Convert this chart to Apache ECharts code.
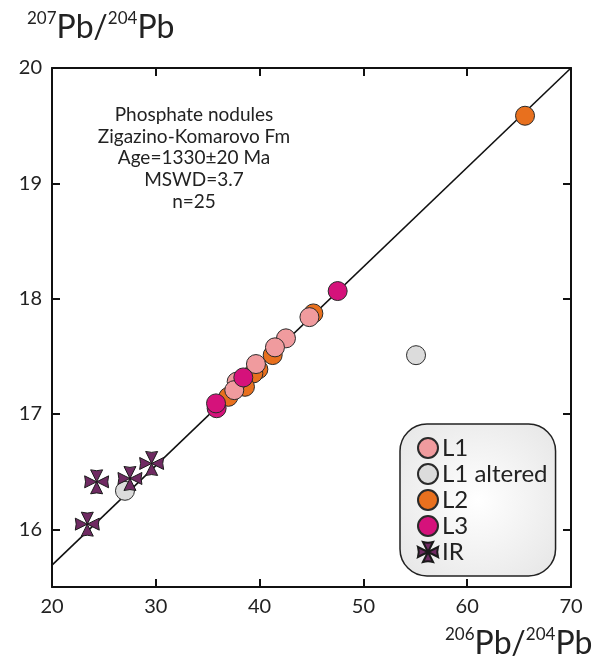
<!DOCTYPE html>
<html>
<head>
<meta charset="utf-8">
<script src="https://cdn.jsdelivr.net/npm/echarts@6/dist/echarts.min.js"></script>
<style>
html,body{margin:0;padding:0;background:#fff;}
#chart{width:595px;height:666px;}
</style>
</head>
<body>
<div id="chart"></div>
<script>
// ---- data ----
const xTicks = [20, 30, 40, 50, 60, 70];
const yTicks = [16, 17, 18, 19, 20];
const seriesNames = ['L1', 'L1 altered', 'L2', 'L3', 'IR'];
const l1 = [[44.8, 17.84], [42.54, 17.656], [41.48, 17.578], [39.65, 17.433], [37.79, 17.28], [37.56, 17.207]];
const l1Altered = [[55.07, 17.51], [27.03, 16.334]];
const l2 = [[65.57, 19.586], [45.18, 17.872], [41.26, 17.511], [39.88, 17.387], [39.40, 17.352], [38.59, 17.236], [36.99, 17.149]];
const l3 = [[47.52, 18.066], [38.43, 17.317], [35.86, 17.05], [35.80, 17.092]];
const ir = [[23.40, 16.045], [24.30, 16.412], [27.51, 16.441], [29.60, 16.571]];
const isochron = [[20, 15.69], [70, 20.0]];
const noteLines = ['Phosphate nodules', 'Zigazino-Komarovo Fm', 'Age=1330±20 Ma', 'MSWD=3.7', 'n=25'];

const FONT = 'Lato';
const colors = { 'L1': '#F09B9E', 'L1 altered': '#DCDCDC', 'L2': '#E8701E', 'L3': '#D5127B', 'IR': '#6F2A62' };
const crossPath = 'path://M5,0 Q10,1.5 15,0 L10,10 Z M5,20 Q10,18.5 15,20 L10,10 Z M0,5 Q1.5,10 0,15 L10,10 Z M20,5 Q18.5,10 20,15 L10,10 Z';

const chart = echarts.init(document.getElementById('chart'), null, { renderer: 'canvas' });

function axisCommon(show) {
  return {
    axisLine: { show: true, onZero: false, lineStyle: { color: '#111', width: 2 } },
    splitLine: { show: false },
    axisTick: { show: true, inside: true, length: 8, lineStyle: { color: '#111', width: 2 } },
    axisLabel: { show: show, color: '#222', fontFamily: FONT, fontSize: 20 }
  };
}

function dotSeries(name, data, z) {
  return {
    name: name, type: 'scatter', data: data, symbol: 'circle', symbolSize: 19, z: z,
    itemStyle: { color: colors[name], borderColor: '#2a2a2a', borderWidth: 1, opacity: 1 }
  };
}

const option = {
  animation: false,
  grid: { left: 52, top: 68, width: 519, height: 519, containLabel: false },
  xAxis: [
    Object.assign(axisCommon(true), { type: 'value', position: 'bottom', min: 20, max: 70, interval: 10,
      axisLabel: { show: true, color: '#222', fontFamily: FONT, fontSize: 20, margin: 10 } }),
    Object.assign(axisCommon(false), { type: 'value', position: 'top', min: 20, max: 70, interval: 10 })
  ],
  yAxis: [
    Object.assign(axisCommon(true), { type: 'value', position: 'left', min: 15.5, max: 20,
      axisTick: { show: true, inside: true, length: 8, customValues: yTicks, lineStyle: { color: '#111', width: 2 } },
      axisLabel: { show: true, customValues: yTicks, color: '#222', fontFamily: FONT, fontSize: 20, margin: 10 } }),
    Object.assign(axisCommon(false), { type: 'value', position: 'right', min: 15.5, max: 20,
      axisTick: { show: true, inside: true, length: 8, customValues: yTicks, lineStyle: { color: '#111', width: 2 } },
      axisLabel: { show: false, customValues: yTicks } })
  ],
  legend: {
    data: seriesNames,
    orient: 'vertical',
    left: 400, top: 424,
    padding: [12, 8, 12, 17],
    itemGap: 2,
    itemWidth: 20, itemHeight: 20,
    backgroundColor: { type: 'radial', x: 0.5, y: 0.5, r: 0.75,
      colorStops: [{ offset: 0, color: '#ffffff' }, { offset: 1, color: '#e4e4e4' }] },
    borderColor: '#222', borderWidth: 1.5, borderRadius: 27,
    textStyle: { fontFamily: FONT, fontSize: 24, color: '#222', lineHeight: 23, padding: [0, 0, 0, -1] },
    selectedMode: false
  },
  series: [
    { name: 'isochron', type: 'line', data: isochron, symbol: 'none', silent: true, z: 1,
      lineStyle: { color: '#111', width: 1.6 } },
    dotSeries('L1 altered', l1Altered, 2),
    dotSeries('L2', l2, 3),
    dotSeries('L1', l1, 4),
    dotSeries('L3', l3, 5),
    { name: 'IR', type: 'scatter', data: ir, symbol: crossPath, symbolSize: 24, z: 6,
      itemStyle: { color: colors['IR'], borderColor: '#1a1a1a', borderWidth: 1, opacity: 1 } }
  ],
  graphic: [
    { type: 'text', left: 27, top: 10, z: 10,
      style: { text: '{s|207}{m|Pb/}{s|204}{m|Pb}', fill: '#222',
        rich: { s: { fontFamily: FONT, fontSize: 17, lineHeight: 14, verticalAlign: 'top', fill: '#222' },
                m: { fontFamily: FONT, fontSize: 32, lineHeight: 36, fill: '#222' } } } },
    { type: 'text', left: 445, top: 626, z: 10,
      style: { text: '{s|206}{m|Pb/}{s|204}{m|Pb}', fill: '#222',
        rich: { s: { fontFamily: FONT, fontSize: 17, lineHeight: 14, verticalAlign: 'top', fill: '#222' },
                m: { fontFamily: FONT, fontSize: 32, lineHeight: 36, fill: '#222' } } } },
    { type: 'text', x: 194, y: 104, z: 10,
      style: { text: noteLines.join('\n'), textAlign: 'center', fontFamily: FONT, fontSize: 19,
        lineHeight: 21.7, fill: '#222' } }
  ]
};
chart.setOption(option);
</script>
</body>
</html>
